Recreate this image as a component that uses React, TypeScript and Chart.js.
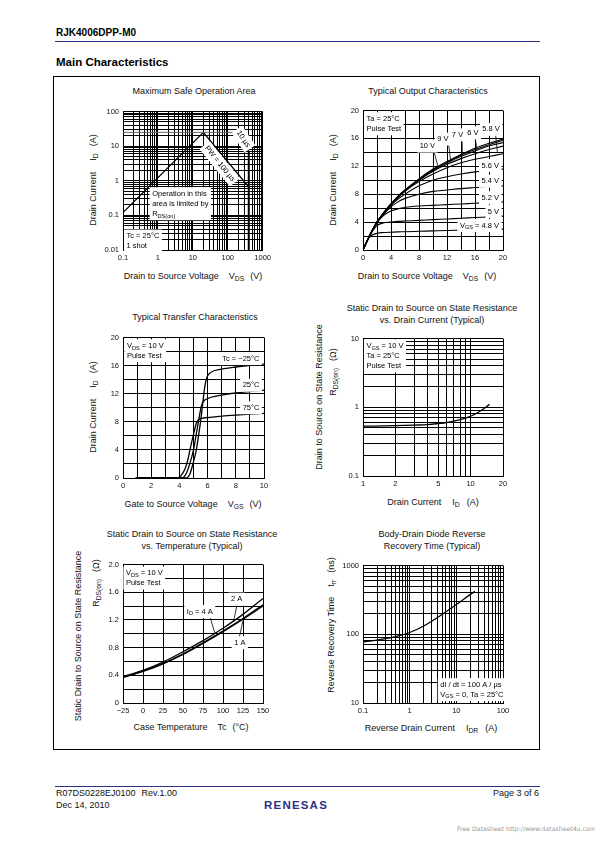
import React, { useEffect, useRef } from "react";
import { Chart, registerables } from "chart.js";
Chart.register(...registerables);

const FONT = '"Liberation Sans", Arial, Helvetica, sans-serif';
const NAVY = "#2b2f86";
Chart.defaults.font.family = FONT;

// ================= DATA =================
// 1. Maximum Safe Operation Area  (V_DS [V], I_D [A])
const soaRdsLimit = [[0.1, 0.12], [20, 25]];
const soaPulseLimit = [[0.1, 25], [150, 25]];
const soaPw100us = [[20, 25], [400, 0.66]];
const soaPw10us = [[150, 25], [400, 6.9]];
const soaVdssLimit = [[400, 0.01], [400, 6.9]];
const soaXLabels = [0.1, 1, 10, 100, 1000];
const soaYLabels = [0.01, 0.1, 1, 10, 100];

// 2. Typical Output Characteristics (V_DS [V] -> I_D [A])
const outVds = [0, 1, 2, 3, 4, 5, 6, 8, 10, 12, 14, 16, 18, 20];
const outVgs10 = [0, 2.2, 4.0, 5.4, 6.6, 7.7, 8.6, 10.2, 11.6, 12.7, 13.7, 14.6, 15.3, 15.9];
const outVgs9 = [0, 2.2, 4.0, 5.4, 6.6, 7.7, 8.6, 10.1, 11.5, 12.6, 13.6, 14.4, 15.1, 15.7];
const outVgs7 = [0, 2.2, 4.0, 5.4, 6.6, 7.6, 8.5, 10.1, 11.4, 12.5, 13.4, 14.2, 14.9, 15.4];
const outVgs6 = [0, 2.2, 4.0, 5.4, 6.5, 7.6, 8.5, 10.0, 11.3, 12.3, 13.1, 13.8, 14.4, 14.9];
const outVgs58 = [0, 2.2, 4.0, 5.3, 6.5, 7.5, 8.4, 9.8, 10.9, 11.8, 12.5, 13.0, 13.4, 13.8];
const outVgs56 = [0, 2.2, 4.0, 5.3, 6.4, 7.3, 8.0, 9.2, 10.0, 10.5, 10.9, 11.2, 11.4, 11.6];
const outVgs54 = [0, 2.2, 4.0, 5.2, 6.2, 6.9, 7.4, 8.0, 8.4, 8.6, 8.8, 8.95, 9.1, 9.2];
const outVgs52 = [0, 2.2, 3.9, 5.0, 5.6, 5.9, 6.1, 6.3, 6.4, 6.5, 6.6, 6.7, 6.8, 6.9];
const outVgs50 = [0, 2.1, 3.5, 3.9, 4.0, 4.1, 4.15, 4.25, 4.35, 4.45, 4.55, 4.65, 4.75, 4.85];
const outVgs48 = [0, 1.9, 2.4, 2.5, 2.55, 2.6, 2.62, 2.68, 2.74, 2.8, 2.85, 2.9, 2.95, 3.0];
const outXLabels = [0, 4, 8, 12, 16, 20];
const outYLabels = [0, 4, 8, 12, 16, 20];

// 3. Typical Transfer Characteristics (V_GS [V], I_D [A])
const xferTc75 = [[0.9, 0], [3.8, 0], [4.1, 0.3], [4.4, 1.3], [4.6, 2.6], [4.75, 4.0], [5.0, 6.2], [5.2, 7.8], [5.35, 8.3], [5.6, 8.5], [6, 8.6], [7, 8.8], [8, 8.95], [10, 9.2]];
const xferTc25 = [[0.9, 0], [4.15, 0], [4.45, 0.5], [4.7, 1.8], [5.0, 4.0], [5.2, 6.3], [5.4, 8.6], [5.55, 10.2], [5.7, 10.9], [6, 11.3], [7, 11.8], [8, 12.1], [10, 12.5]];
const xferTcM25 = [[0.9, 0], [4.5, 0], [4.75, 0.6], [5.0, 2.3], [5.2, 4.0], [5.4, 6.6], [5.5, 8.0], [5.65, 10.5], [5.8, 13.0], [5.95, 14.3], [6.2, 15.0], [7, 15.5], [8, 15.8], [10, 16.2]];
const xferXLabels = [0, 2, 4, 6, 8, 10];
const xferYLabels = [0, 4, 8, 12, 16, 20];

// 4. R_DS(on) vs Drain Current (I_D [A], R [ohm])
const rdsIdCurrent = [1, 2, 3, 4, 5, 6, 7, 8, 10, 12, 15];
const rdsIdValues = [0.53, 0.54, 0.55, 0.56, 0.58, 0.6, 0.63, 0.66, 0.74, 0.86, 1.1];
const rdsIdXLabels = [1, 2, 5, 10, 20];
const rdsIdYLabels = [0.1, 1, 10];

// 5. R_DS(on) vs Case Temperature (Tc [°C], R [ohm])
const rdsTcTemp = [-25, 0, 25, 50, 75, 100, 125, 150];
const rdsTc4A = [0.38, 0.47, 0.59, 0.74, 0.9, 1.08, 1.28, 1.51];
const rdsTc2A = [0.37, 0.46, 0.57, 0.71, 0.87, 1.04, 1.22, 1.42];
const rdsTc1A = [0.37, 0.455, 0.565, 0.7, 0.86, 1.03, 1.21, 1.4];
const rdsTcXLabels = [-25, 0, 25, 50, 75, 100, 125, 150];
const rdsTcYLabels = [0, 0.4, 0.8, 1.2, 1.6, 2.0];

// 6. Body-Drain Diode Reverse Recovery Time (I_DR [A], trr [ns])
const trrCurrent = [0.1, 0.2, 0.5, 1, 2, 5, 10, 20, 25];
const trrTime = [77, 82, 92, 106, 132, 195, 270, 380, 420];
const trrXLabels = [0.1, 1, 10, 100];
const trrYLabels = [10, 100, 1000];

// ================= HELPERS =================
const pairs = (a: number[][]) => a.map(([x, y]) => ({ x, y }));
const zip = (xs: number[], ys: number[]) => xs.map((x, i) => ({ x, y: ys[i] }));

function logGrid(min: number, max: number) {
  const out: number[] = [];
  for (let e = Math.floor(Math.log10(min)); e <= Math.ceil(Math.log10(max)); e++) {
    for (let m = 1; m <= 9; m++) {
      const v = Number((m * Math.pow(10, e)).toPrecision(6));
      if (v >= min * 0.9999 && v <= max * 1.0001) out.push(v);
    }
  }
  return out;
}
function linGrid(min: number, max: number, step: number) {
  const out: number[] = [];
  const n = Math.round((max - min) / step);
  for (let i = 0; i <= n; i++) out.push(Number((min + i * step).toFixed(6)));
  return out;
}

type AxisSpec = {
  type: "linear" | "logarithmic";
  min: number;
  max: number;
  grid: number[];
  labels: number[];
  text?: (v: number) => string;
};

function makeScale(ax: AxisSpec, isX: boolean) {
  return {
    type: ax.type,
    min: ax.min,
    max: ax.max,
    position: isX ? "bottom" : "left",
    afterBuildTicks: (s: any) => {
      s.ticks = ax.grid.map((v) => ({ value: v }));
    },
    afterFit: (s: any) => {
      if (isX) s.height = 14;
      else s.width = 30;
    },
    grid: { color: "#000", lineWidth: 1, drawTicks: false },
    border: { display: true, color: "#000", width: 1 },
    ticks: {
      autoSkip: false,
      maxRotation: 0,
      minRotation: 0,
      padding: isX ? 3 : 4,
      color: "#111",
      font: { family: FONT, size: 7.5 },
      callback: (v: any) => {
        const n = Number(v);
        const hit = ax.labels.find((l) => Math.abs(l - n) <= Math.abs(l) * 1e-6 + 1e-9);
        if (hit === undefined) return "";
        return ax.text ? ax.text(hit) : String(hit);
      },
    },
  };
}

function segs(s: string) {
  const out: { t: string; sub: boolean }[] = [];
  const re = /_\{([^}]*)\}/g;
  let last = 0;
  let m: RegExpExecArray | null;
  while ((m = re.exec(s))) {
    if (m.index > last) out.push({ t: s.slice(last, m.index), sub: false });
    out.push({ t: m[1], sub: true });
    last = re.lastIndex;
  }
  if (last < s.length) out.push({ t: s.slice(last), sub: false });
  return out;
}
function richW(ctx: CanvasRenderingContext2D, s: string, size: number) {
  let w = 0;
  for (const g of segs(s)) {
    ctx.font = `${g.sub ? size * 0.75 : size}px ${FONT}`;
    w += ctx.measureText(g.t).width;
  }
  return w;
}
function richDraw(ctx: CanvasRenderingContext2D, s: string, x: number, y: number, size: number) {
  ctx.textBaseline = "middle";
  ctx.textAlign = "left";
  let cx = x;
  for (const g of segs(s)) {
    ctx.font = `${g.sub ? size * 0.75 : size}px ${FONT}`;
    ctx.fillText(g.t, cx, g.sub ? y + size * 0.3 : y);
    cx += ctx.measureText(g.t).width;
  }
}

type LabelSpec = { x: number; y: number; lines: string[]; anchor: "tl" | "c" | "cr"; rot?: number };

function makeAnnot(labels: LabelSpec[], leaders: number[][]) {
  return {
    id: "annot",
    afterDatasetsDraw(chart: any) {
      const ctx: CanvasRenderingContext2D = chart.ctx;
      const xs = chart.scales.x;
      const ys = chart.scales.y;
      ctx.save();
      ctx.strokeStyle = "#000";
      ctx.lineWidth = 0.8;
      for (const [x1, y1, x2, y2] of leaders) {
        ctx.beginPath();
        ctx.moveTo(xs.getPixelForValue(x1), ys.getPixelForValue(y1));
        ctx.lineTo(xs.getPixelForValue(x2), ys.getPixelForValue(y2));
        ctx.stroke();
      }
      const size = 7.5;
      const lh = 10;
      const px = 2.5;
      const py = 1.5;
      for (const a of labels) {
        const w = Math.max(...a.lines.map((s) => richW(ctx, s, size)));
        const bw = w + 2 * px;
        const bh = a.lines.length * lh + 2 * py;
        let bx = 0;
        let by = 0;
        if (a.anchor === "cr") {
          bx = -bw;
          by = -bh / 2;
        } else if (a.anchor === "c") {
          bx = -bw / 2;
          by = -bh / 2;
        }
        ctx.save();
        ctx.translate(xs.getPixelForValue(a.x), ys.getPixelForValue(a.y));
        if (a.rot) ctx.rotate((a.rot * Math.PI) / 180);
        ctx.fillStyle = "#fff";
        ctx.fillRect(bx, by, bw, bh);
        ctx.fillStyle = "#000";
        a.lines.forEach((s, i) => richDraw(ctx, s, bx + px, by + py + lh * (i + 0.5), size));
        ctx.restore();
      }
      ctx.restore();
    },
  };
}

const line = (data: any[], extra: any = {}) => ({
  data,
  showLine: true,
  pointRadius: 0,
  borderColor: "#000",
  borderWidth: 1.3,
  tension: 0,
  ...extra,
});
const smooth = (data: any[], extra: any = {}) => line(data, { cubicInterpolationMode: "monotone", ...extra });

type ChartSpec = {
  rect: [number, number, number, number];
  xAxis: AxisSpec;
  yAxis: AxisSpec;
  datasets: () => any[];
  labels?: LabelSpec[];
  leaders?: number[][];
};

function PlotCanvas({ spec }: { spec: ChartSpec }) {
  const ref = useRef<HTMLCanvasElement>(null);
  const [l, t, r, b] = spec.rect;
  const W = r - l + 40;
  const H = b - t + 20;
  useEffect(() => {
    const chart = new Chart(ref.current as HTMLCanvasElement, {
      type: "scatter",
      data: { datasets: spec.datasets() },
      options: {
        responsive: false,
        animation: false,
        devicePixelRatio: 1,
        events: [],
        layout: { padding: { top: 6, right: 10, left: 0, bottom: 0 } },
        plugins: { legend: { display: false }, tooltip: { enabled: false } },
        scales: { x: makeScale(spec.xAxis, true), y: makeScale(spec.yAxis, false) } as any,
      },
      plugins: [makeAnnot(spec.labels || [], spec.leaders || [])],
    } as any);
    return () => chart.destroy();
  }, []);
  return (
    <canvas
      ref={ref}
      width={W}
      height={H}
      style={{ position: "absolute", left: l - 30, top: t - 6, width: W, height: H }}
    />
  );
}

// ================= CHART SPECS =================
const soaSpec: ChartSpec = {
  rect: [123, 109, 264, 250],
  xAxis: { type: "logarithmic", min: 0.1, max: 1000, grid: logGrid(0.1, 1000), labels: soaXLabels },
  yAxis: { type: "logarithmic", min: 0.01, max: 100, grid: logGrid(0.01, 100), labels: soaYLabels },
  datasets: () => [
    line(pairs(soaPulseLimit), { borderColor: "#666", borderWidth: 1 }),
    line(pairs(soaRdsLimit)),
    line(pairs(soaPw100us)),
    line(pairs(soaPw10us)),
    line(pairs(soaVdssLimit), { borderWidth: 2 }),
  ],
  labels: [
    { x: 0.58, y: 0.65, lines: ["Operation in this", "area is limited by", "R_{DS(on)}"], anchor: "tl" },
    { x: 0.107, y: 0.039, lines: ["Tc = 25°C", "1 shot"], anchor: "tl" },
    { x: 280, y: 16, lines: ["10 µs"], anchor: "c", rot: 56 },
    { x: 59, y: 3.1, lines: ["PW = 100 µs"], anchor: "c", rot: 51 },
  ],
};

const outSpec: ChartSpec = {
  rect: [363, 108, 503, 250],
  xAxis: { type: "linear", min: 0, max: 20, grid: linGrid(0, 20, 2), labels: outXLabels },
  yAxis: { type: "linear", min: 0, max: 20, grid: linGrid(0, 20, 2), labels: outYLabels },
  datasets: () =>
    [outVgs10, outVgs9, outVgs7, outVgs6, outVgs58, outVgs56, outVgs54, outVgs52, outVgs50, outVgs48].map((ys) =>
      smooth(zip(outVds, ys), { borderWidth: 1.1 })
    ),
  labels: [
    { x: 0.15, y: 19.75, lines: ["Ta = 25°C", "Pulse Test"], anchor: "tl" },
    { x: 9.2, y: 14.9, lines: ["10 V"], anchor: "c" },
    { x: 11.4, y: 15.9, lines: ["9 V"], anchor: "c" },
    { x: 13.5, y: 16.5, lines: ["7 V"], anchor: "c" },
    { x: 15.7, y: 16.8, lines: ["6 V"], anchor: "c" },
    { x: 18.3, y: 17.3, lines: ["5.8 V"], anchor: "c" },
    { x: 19.8, y: 12.1, lines: ["5.6 V"], anchor: "cr" },
    { x: 19.8, y: 9.86, lines: ["5.4 V"], anchor: "cr" },
    { x: 19.8, y: 7.5, lines: ["5.2 V"], anchor: "cr" },
    { x: 19.8, y: 5.5, lines: ["5 V"], anchor: "cr" },
    { x: 19.8, y: 3.5, lines: ["V_{GS} = 4.8 V"], anchor: "cr" },
  ],
  leaders: [
    [10.1, 14.3, 10.7, 12.0],
    [12.2, 15.4, 12.5, 13.0],
    [14.15, 15.9, 14.2, 13.6],
    [16.0, 16.1, 16.3, 14.4],
    [18.9, 16.9, 19.2, 14.0],
  ],
};

const xferSpec: ChartSpec = {
  rect: [123, 335, 264, 478],
  xAxis: { type: "linear", min: 0, max: 10, grid: linGrid(0, 10, 1), labels: xferXLabels },
  yAxis: { type: "linear", min: 0, max: 20, grid: linGrid(0, 20, 2), labels: xferYLabels },
  datasets: () => [smooth(pairs(xferTcM25)), smooth(pairs(xferTc25)), smooth(pairs(xferTc75))],
  labels: [
    { x: 0.1, y: 19.75, lines: ["V_{DS} = 10 V", "Pulse Test"], anchor: "tl" },
    { x: 9.85, y: 17.0, lines: ["Tc = −25°C"], anchor: "cr" },
    { x: 9.85, y: 13.2, lines: ["25°C"], anchor: "cr" },
    { x: 9.85, y: 10.0, lines: ["75°C"], anchor: "cr" },
  ],
};

const rdsIdSpec: ChartSpec = {
  rect: [363, 336, 503, 476],
  xAxis: { type: "logarithmic", min: 1, max: 20, grid: [1, 2, 3, 4, 5, 6, 7, 8, 9, 10, 20], labels: rdsIdXLabels },
  yAxis: { type: "logarithmic", min: 0.1, max: 10, grid: logGrid(0.1, 10), labels: rdsIdYLabels },
  datasets: () => [smooth(zip(rdsIdCurrent, rdsIdValues))],
  labels: [{ x: 1.02, y: 9.7, lines: ["V_{GS} = 10 V", "Ta = 25°C", "Pulse Test"], anchor: "tl" }],
};

const rdsTcSpec: ChartSpec = {
  rect: [123, 562, 263, 703],
  xAxis: {
    type: "linear",
    min: -25,
    max: 150,
    grid: linGrid(-25, 150, 25),
    labels: rdsTcXLabels,
    text: (v) => (v < 0 ? "−" + Math.abs(v) : String(v)),
  },
  yAxis: {
    type: "linear",
    min: 0,
    max: 2,
    grid: linGrid(0, 2, 0.2),
    labels: rdsTcYLabels,
    text: (v) => (v === 0 ? "0" : v.toFixed(1)),
  },
  datasets: () => [
    smooth(zip(rdsTcTemp, rdsTc4A)),
    smooth(zip(rdsTcTemp, rdsTc2A)),
    smooth(zip(rdsTcTemp, rdsTc1A)),
  ],
  labels: [
    { x: -24.5, y: 1.97, lines: ["V_{DS} = 10 V", "Pulse Test"], anchor: "tl" },
    { x: 71, y: 1.32, lines: ["I_{D} = 4 A"], anchor: "c" },
    { x: 117, y: 1.5, lines: ["2 A"], anchor: "c" },
    { x: 121, y: 0.87, lines: ["1 A"], anchor: "c" },
  ],
  leaders: [
    [83, 1.27, 90, 1.0],
    [118, 1.44, 113, 1.17],
    [120, 0.93, 125, 1.19],
  ],
};

const trrSpec: ChartSpec = {
  rect: [363, 563, 503, 703],
  xAxis: { type: "logarithmic", min: 0.1, max: 100, grid: logGrid(0.1, 100), labels: trrXLabels },
  yAxis: { type: "logarithmic", min: 10, max: 1000, grid: logGrid(10, 1000), labels: trrYLabels },
  datasets: () => [smooth(zip(trrCurrent, trrTime))],
  labels: [{ x: 4.0, y: 23, lines: ["dI / dt = 100 A / µs", "V_{GS} = 0, Ta = 25°C"], anchor: "tl" }],
};

// ================= TEXT HELPERS =================
const Sub = ({ children }: { children: React.ReactNode }) => (
  <span style={{ fontSize: "0.75em", position: "relative", top: "0.3em" }}>{children}</span>
);

function Txt({
  x,
  y,
  children,
  size = 9,
  rot = false,
  align = "center",
  bold = false,
  color = "#111",
  family = FONT,
}: {
  x: number;
  y: number;
  children: React.ReactNode;
  size?: number;
  rot?: boolean;
  align?: "center" | "left" | "right";
  bold?: boolean;
  color?: string;
  family?: string;
}) {
  const tx = align === "center" ? "-50%" : align === "left" ? "0" : "-100%";
  return (
    <div
      style={{
        position: "absolute",
        left: x,
        top: y,
        transform: `translate(${tx}, -50%)${rot ? " rotate(-90deg)" : ""}`,
        whiteSpace: "nowrap",
        fontSize: size,
        lineHeight: 1,
        fontFamily: family,
        fontWeight: bold ? "bold" : "normal",
        color,
      }}
    >
      {children}
    </div>
  );
}

const Gap = ({ w }: { w: number }) => <span style={{ display: "inline-block", width: w }} />;

export default function App() {
  return (
    <div
      style={{
        position: "absolute",
        left: 0,
        top: 0,
        width: 595,
        height: 842,
        background: "#fff",
        overflow: "hidden",
        fontFamily: FONT,
      }}
    >
      {/* Header */}
      <Txt x={56} y={33} size={10} bold align="left" color="#000">
        RJK4006DPP-M0
      </Txt>
      <div style={{ position: "absolute", left: 55, top: 40.5, width: 485, height: 1.3, background: NAVY }} />
      <Txt x={56} y={63} size={11.5} bold align="left" color="#000">
        Main Characteristics
      </Txt>
      <div
        style={{
          position: "absolute",
          left: 53,
          top: 76,
          width: 487,
          height: 674,
          border: "1px solid #000",
          boxSizing: "border-box",
        }}
      />

      {/* Chart 1 */}
      <Txt x={194} y={91}>Maximum Safe Operation Area</Txt>
      <Txt x={93} y={180} rot>
        Drain Current<Gap w={11} />I<Sub>D</Sub><Gap w={7} />(A)
      </Txt>
      <Txt x={193} y={276}>
        Drain to Source Voltage<Gap w={10} />V<Sub>DS</Sub><Gap w={6} />(V)
      </Txt>
      <PlotCanvas spec={soaSpec} />

      {/* Chart 2 */}
      <Txt x={428} y={91}>Typical Output Characteristics</Txt>
      <Txt x={333} y={180} rot>
        Drain Current<Gap w={11} />I<Sub>D</Sub><Gap w={7} />(A)
      </Txt>
      <Txt x={427} y={276}>
        Drain to Source Voltage<Gap w={10} />V<Sub>DS</Sub><Gap w={6} />(V)
      </Txt>
      <PlotCanvas spec={outSpec} />

      {/* Chart 3 */}
      <Txt x={195} y={317}>Typical Transfer Characteristics</Txt>
      <Txt x={93} y={407} rot>
        Drain Current<Gap w={11} />I<Sub>D</Sub><Gap w={7} />(A)
      </Txt>
      <Txt x={193} y={504}>
        Gate to Source Voltage<Gap w={10} />V<Sub>GS</Sub><Gap w={6} />(V)
      </Txt>
      <PlotCanvas spec={xferSpec} />

      {/* Chart 4 */}
      <Txt x={432} y={308}>Static Drain to Source on State Resistance</Txt>
      <Txt x={432} y={320}>vs. Drain Current (Typical)</Txt>
      <Txt x={319} y={397} rot>
        Drain to Source on State Resistance
      </Txt>
      <Txt x={333} y={372} rot>
        R<Sub>DS(on)</Sub><Gap w={7} />(Ω)
      </Txt>
      <Txt x={433} y={502}>
        Drain Current<Gap w={11} />I<Sub>D</Sub><Gap w={7} />(A)
      </Txt>
      <PlotCanvas spec={rdsIdSpec} />

      {/* Chart 5 */}
      <Txt x={192} y={534}>Static Drain to Source on State Resistance</Txt>
      <Txt x={192} y={546}>vs. Temperature (Typical)</Txt>
      <Txt x={78} y={636} rot>
        Static Drain to Source on State Resistance
      </Txt>
      <Txt x={96} y={583} rot>
        R<Sub>DS(on)</Sub><Gap w={7} />(Ω)
      </Txt>
      <Txt x={191} y={727}>
        Case Temperature<Gap w={10} />Tc<Gap w={6} />(°C)
      </Txt>
      <PlotCanvas spec={rdsTcSpec} />

      {/* Chart 6 */}
      <Txt x={432} y={534}>Body-Drain Diode Reverse</Txt>
      <Txt x={432} y={546}>Recovery Time (Typical)</Txt>
      <Txt x={331} y={625} rot>
        Reverse Recovery Time<Gap w={10} />t<Sub>rr</Sub><Gap w={7} />(ns)
      </Txt>
      <Txt x={431} y={728}>
        Reverse Drain Current<Gap w={11} />I<Sub>DR</Sub><Gap w={7} />(A)
      </Txt>
      <PlotCanvas spec={trrSpec} />

      {/* Footer */}
      <div style={{ position: "absolute", left: 55, top: 785.5, width: 485, height: 1.3, background: NAVY }} />
      <Txt x={56} y={793} size={9} align="left">
        R07DS0228EJ0100<Gap w={6} />Rev.1.00
      </Txt>
      <Txt x={56} y={805} size={9} align="left">
        Dec 14, 2010
      </Txt>
      <Txt x={539} y={793} size={9} align="right">
        Page 3 of 6
      </Txt>
      <Txt x={296} y={806} size={11.5} bold color={NAVY}>
        <span style={{ letterSpacing: 1.2 }}>RENESAS</span>
      </Txt>
      <Txt x={457} y={829} size={6.2} align="left" color="#9a9a9a" family='"DejaVu Sans", sans-serif'>
        Free Datasheet http://www.datasheet4u.com/
      </Txt>
    </div>
  );
}
